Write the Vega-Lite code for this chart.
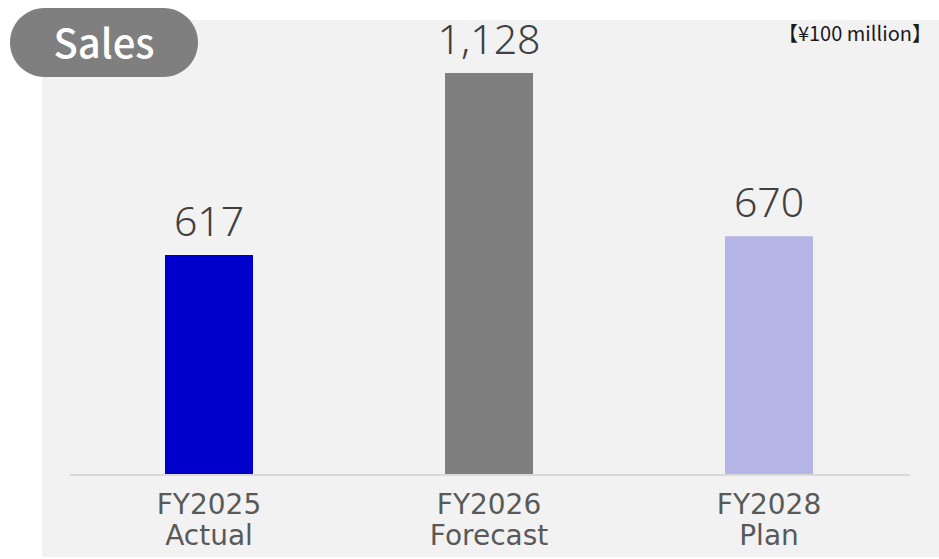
{
  "$schema": "https://vega.github.io/schema/vega-lite/v6.json",
  "width": 897,
  "height": 537,
  "autosize": {"type": "none"},
  "padding": {"left": 42, "top": 20, "right": 0, "bottom": 2},
  "background": "#ffffff",
  "config": {"view": {"stroke": null, "fill": "#f2f2f2"}},
  "layer": [
    {
      "data": {"values": [
        {"cat": "FY2025 Actual", "value": 617},
        {"cat": "FY2026 Forecast", "value": 1128},
        {"cat": "FY2028 Plan", "value": 670}
      ]},
      "encoding": {
        "x": {
          "field": "cat", "type": "nominal", "sort": null,
          "scale": {"paddingInner": 0.6857, "paddingOuter": 0.4446, "align": 0.494},
          "axis": {
            "orient": "bottom", "offset": -82, "title": null, "domain": false, "ticks": false,
            "grid": false, "labelAngle": 0, "labelPadding": 16, "labelFont": "DejaVu Sans",
            "labelFontSize": 28, "labelColor": "#595959", "labelLineHeight": 31,
            "labelExpr": "split(datum.label, ' ')"
          }
        },
        "y": {
          "field": "value", "type": "quantitative",
          "scale": {"domain": [-230.1, 1276.7], "nice": false, "zero": false},
          "axis": null
        }
      },
      "layer": [
        {
          "mark": {"type": "bar"},
          "encoding": {
            "color": {
              "field": "cat", "type": "nominal", "sort": null,
              "scale": {"domain": ["FY2025 Actual", "FY2026 Forecast", "FY2028 Plan"], "range": ["#0000cc", "#7f7f7f", "#b4b4e6"]},
              "legend": null
            }
          }
        },
        {
          "mark": {"type": "text", "dy": -19, "baseline": "alphabetic", "font": "Noto Sans", "fontSize": 41, "fontWeight": 300, "color": "#404040"},
          "encoding": {"text": {"field": "value", "type": "quantitative", "format": ","}}
        }
      ]
    },
    {
      "data": {"values": [{"title": "Sales", "unit": "【¥100 million】"}]},
      "layer": [
        {
          "mark": {"type": "rule", "color": "#d9d9d9", "strokeWidth": 2},
          "encoding": {
            "x": {"datum": 0.0312, "type": "quantitative", "scale": {"domain": [0, 1], "nice": false, "zero": false}, "axis": null},
            "x2": {"datum": 0.9677},
            "y": {"datum": 0, "type": "quantitative"}
          }
        },
        {
          "mark": {"type": "rect", "color": "#7f7f7f", "cornerRadius": 34.5},
          "encoding": {
            "x": {"datum": -0.0357, "type": "quantitative", "axis": null},
            "x2": {"datum": 0.1739},
            "y": {"datum": 1310.4, "type": "quantitative"},
            "y2": {"datum": 1116.8}
          }
        },
        {
          "mark": {"type": "text", "color": "#ffffff", "font": "Noto Sans CJK JP", "fontSize": 40, "fontWeight": 500, "align": "center", "baseline": "middle"},
          "encoding": {
            "x": {"datum": 0.0691, "type": "quantitative", "axis": null},
            "y": {"datum": 1202.4, "type": "quantitative"},
            "text": {"field": "title"}
          }
        },
        {
          "mark": {"type": "text", "color": "#1a1a1a", "font": "Noto Sans CJK JP", "fontSize": 20, "align": "right", "baseline": "middle"},
          "encoding": {
            "x": {"datum": 0.9922, "type": "quantitative", "axis": null},
            "y": {"datum": 1234.6, "type": "quantitative"},
            "text": {"field": "unit"}
          }
        }
      ]
    }
  ],
  "resolve": {"scale": {"x": "independent", "color": "independent"}, "axis": {"x": "independent"}}
}
